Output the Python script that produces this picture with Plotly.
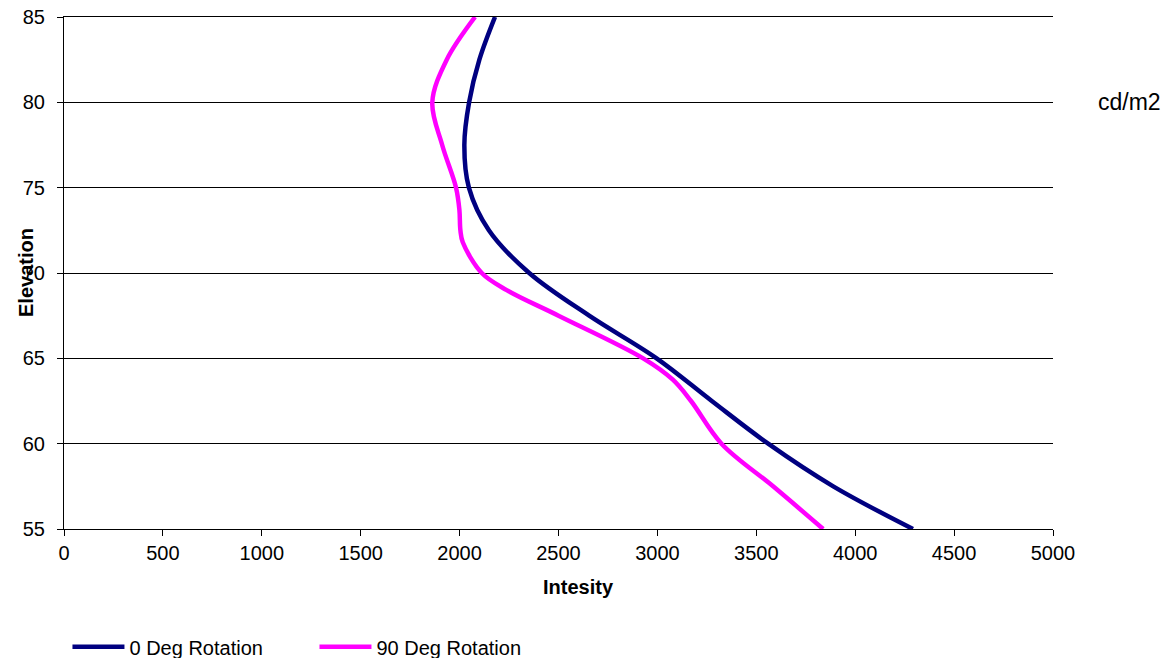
import plotly.graph_objects as go

elevation = [85, 82.5, 80, 77.5, 75, 72.5, 70, 67.5, 65, 62.5, 60, 57.5, 55]
deg0 = [2179, 2100, 2048, 2024, 2047, 2148, 2352, 2655, 2996, 3275, 3560, 3889, 4292]
elev90 = [85, 82.5, 80, 77.5, 75, 73.7, 72.5, 71.8, 70, 69, 67.5, 65, 63.75, 62.5, 60, 57.5, 55]
deg90 = [2078, 1935, 1862, 1912, 1982, 1999, 2004, 2016, 2112, 2238, 2500, 2928, 3078, 3170, 3324, 3585, 3838]

x_ticks = [0, 500, 1000, 1500, 2000, 2500, 3000, 3500, 4000, 4500, 5000]
y_ticks = [55, 60, 65, 70, 75, 80, 85]

FONT = "Liberation Sans, Arial, sans-serif"

fig = go.Figure()
fig.add_trace(go.Scatter(x=deg0, y=elevation, mode="lines", name="0 Deg Rotation",
                         line=dict(color="#000080", width=4.5, shape="spline", smoothing=1)))
fig.add_trace(go.Scatter(x=deg90, y=elev90, mode="lines", name="90 Deg Rotation",
                         line=dict(color="#FF00FF", width=4.5, shape="spline", smoothing=1)))

fig.update_layout(
    width=1166, height=658,
    margin=dict(l=63.5, r=113, t=17.3, b=128.7, autoexpand=False),
    paper_bgcolor="white", plot_bgcolor="white",
    font=dict(family=FONT, size=20, color="black"),
    showlegend=True,
    legend=dict(orientation="h", x=0.0035, xanchor="left", y=-0.23, yanchor="middle",
                entrywidth=180, entrywidthmode="pixels", itemwidth=52,
                font=dict(family=FONT, size=20, color="black"),
                bgcolor="rgba(0,0,0,0)"),
    xaxis=dict(range=[0, 5000], tickvals=x_ticks, ticktext=[str(v) for v in x_ticks],
               showgrid=False, zeroline=False, showline=True, mirror=True,
               linecolor="black", linewidth=1,
               ticks="outside", ticklen=6, tickcolor="black",
               tickfont=dict(family=FONT, size=20, color="black")),
    yaxis=dict(range=[55, 85], tickvals=y_ticks, ticktext=[str(v) for v in y_ticks],
               showgrid=True, gridcolor="black", gridwidth=1, zeroline=False,
               showline=True, linecolor="black", linewidth=1,
               ticks="outside", ticklen=6, tickcolor="black", ticklabelstandoff=8,
               tickfont=dict(family=FONT, size=20, color="black")),
    annotations=[
        dict(text="<b>Intesity</b>", xref="paper", yref="paper", x=0.52, y=0, yshift=-58,
             xanchor="center", yanchor="middle", showarrow=False,
             font=dict(family=FONT, size=20, color="black")),
        dict(text="<b>Elevation</b>", xref="paper", yref="paper", x=0, xshift=-38, y=0.5,
             xanchor="center", yanchor="middle", textangle=-90, showarrow=False,
             font=dict(family=FONT, size=20, color="black")),
        dict(text="cd/m2", xref="paper", yref="y", x=1.0434, y=80,
             xanchor="left", yanchor="middle", showarrow=False,
             font=dict(family=FONT, size=23, color="black")),
    ],
)

fig.write_html(
    "out.html",
    config={"displayModeBar": False},
    post_script="document.body.style.margin='0';document.body.style.overflow='hidden';",
)
